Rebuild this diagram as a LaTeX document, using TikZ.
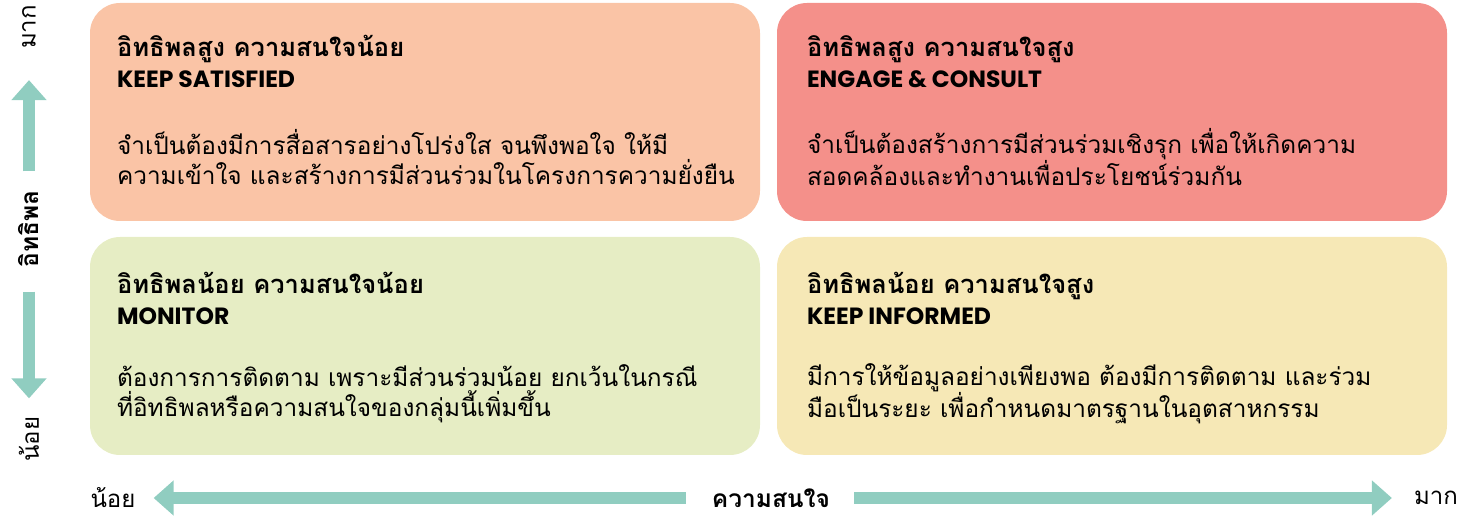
\documentclass[tikz,border=0pt]{standalone}
\usepackage{fontspec}
\usetikzlibrary{arrows.meta,calc}
\newfontfamily\thai[Script=Thai]{Loma}
\newfontfamily\latin{Poppins}
\definecolor{cTL}{HTML}{FAC4A6}
\definecolor{cTR}{HTML}{F4908A}
\definecolor{cBL}{HTML}{E6EDC4}
\definecolor{cBR}{HTML}{F6E8B6}
\definecolor{cAx}{HTML}{90CDC0}
\newcommand\engl[1]{{\latin\bfseries\fontsize{23.5pt}{31pt}\selectfont #1}}
\tikzset{
  quad/.style={rounded corners=30pt, minimum width=670pt, minimum height=218pt, inner sep=0pt, draw=none},
  head/.style={anchor=west, inner sep=0pt, align=left, font=\thai\bfseries\fontsize{25.5pt}{31pt}\selectfont},
  body/.style={anchor=west, inner sep=0pt, align=left, font=\thai\fontsize{24.4pt}{30pt}\selectfont},
  axlab/.style={inner sep=0pt, font=\thai\fontsize{24pt}{24pt}\selectfont},
  axbold/.style={inner sep=0pt, font=\thai\bfseries\fontsize{24.5pt}{24pt}\selectfont},
  axarrow/.style={draw=cAx, line width=12pt, -{Triangle[width=34pt,length=20pt]}}
}
\begin{document}
\begin{tikzpicture}[x=1pt,y=-1pt]
\useasboundingbox (0,0) rectangle (1468,518);
% quadrants
\node[quad, fill=cTL] (tl) at (425,112) {};
\node[quad, fill=cTR] (tr) at (1112,112) {};
\node[quad, fill=cBL] (bl) at (425,346) {};
\node[quad, fill=cBR] (br) at (1112,346) {};
% texts top-left
\node[head] (tlh) at ($(tl.north west)+(27,59)$) {อิทธิพลสูง ความสนใจน้อย\\\engl{KEEP SATISFIED}};
\node[body] (tlb) at ($(tl.north west)+(27,154)$) {จำเป็นต้องมีการสื่อสารอย่างโปร่งใส จนพึงพอใจ ให้มี\\ความเข้าใจ และสร้างการมีส่วนร่วมในโครงการความยั่งยืน};
% top-right
\node[head] (trh) at ($(tr.north west)+(30,59)$) {อิทธิพลสูง ความสนใจสูง\\\engl{ENGAGE \& CONSULT}};
\node[body] (trb) at ($(tr.north west)+(30,154)$) {จำเป็นต้องสร้างการมีส่วนร่วมเชิงรุก เพื่อให้เกิดความ\\สอดคล้องและทำงานเพื่อประโยชน์ร่วมกัน};
% bottom-left
\node[head] (blh) at ($(bl.north west)+(27,62)$) {อิทธิพลน้อย ความสนใจน้อย\\\engl{MONITOR}};
\node[body] (blb) at ($(bl.north west)+(27,157)$) {ต้องการการติดตาม เพราะมีส่วนร่วมน้อย ยกเว้นในกรณี\\ที่อิทธิพลหรือความสนใจของกลุ่มนี้เพิ่มขึ้น};
% bottom-right
\node[head] (brh) at ($(br.north west)+(30,62)$) {อิทธิพลน้อย ความสนใจสูง\\\engl{KEEP INFORMED}};
\node[body] (brb) at ($(br.north west)+(30,157)$) {มีการให้ข้อมูลอย่างเพียงพอ ต้องมีการติดตาม และร่วม\\มือเป็นระยะ เพื่อกำหนดมาตรฐานในอุตสาหกรรม};
% vertical axis
\node[axlab, rotate=90] (vhigh) at (29,27) {มาก};
\node[axbold, rotate=90] (vinf) at (29,229) {อิทธิพล};
\node[axlab, rotate=90] (vlow) at (29,439) {น้อย};
\draw[axarrow, shorten <=19pt, shorten >=31pt] (vinf.east) -- (vhigh.west);
\draw[axarrow, shorten <=24pt, shorten >=18pt] (vinf.west) -- (vlow.east);
% horizontal axis
\node[axlab] (hlow) at (113,498) {น้อย};
\node[axbold] (hint) at (771,498) {ความสนใจ};
\node[axlab] (hhigh) at (1436,498) {มาก};
\draw[axarrow, shorten <=26pt, shorten >=18pt] (hint.west) -- (hlow.east);
\draw[axarrow, shorten <=24pt, shorten >=22pt] (hint.east) -- (hhigh.west);
\end{tikzpicture}
\end{document}
